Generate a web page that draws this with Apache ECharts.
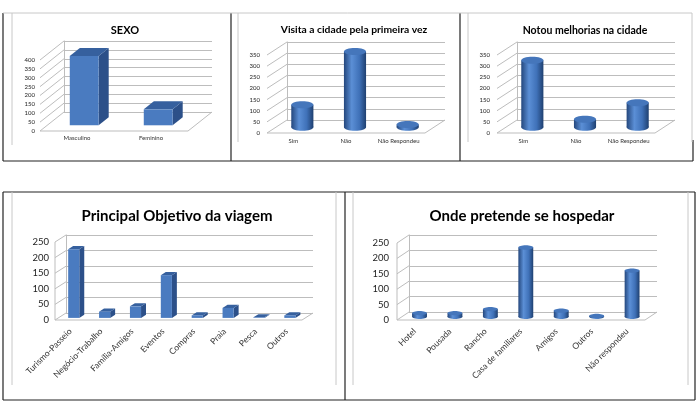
<!DOCTYPE html>
<html>
<head>
<meta charset="utf-8">
<script src="https://cdn.jsdelivr.net/npm/echarts@6/dist/echarts.min.js"></script>
<style>
  html, body { margin: 0; padding: 0; background: #fff; }
  #main { width: 700px; height: 416px; }
</style>
</head>
<body>
<div id="main"></div>
<script>
var sexoCats = ['Masculino', 'Feminino'];
var sexoVals = [390, 90];

var visitaCats = ['Sim', 'Não', 'Não Respondeu'];
var visitaVals = [100, 340, 12];

var notouCats = ['Sim', 'Não', 'Não Respondeu'];
var notouVals = [300, 35, 110];

var objetivoCats = ['Turismo-Passeio', 'Negócio-Trabalho', 'Família-Amigos', 'Eventos', 'Compras', 'Praia', 'Pesca', 'Outros'];
var objetivoVals = [220, 20, 37, 137, 8, 32, 2, 8];

var hospedarCats = ['Hotel', 'Pousada', 'Rancho', 'Casa de familiares', 'Amigos', 'Outros', 'Não respondeu'];
var hospedarVals = [12, 12, 25, 225, 20, 3, 150];

var ticks400 = [0, 50, 100, 150, 200, 250, 300, 350, 400];
var ticks350 = [0, 50, 100, 150, 200, 250, 300, 350];
var ticks250 = [0, 50, 100, 150, 200, 250];

(function () {
    var myChart = echarts.init(document.getElementById('main'));
    var FONT = 'Lato';
    var GRID = '#bdbdbd';

    var panels = [
        { title: 'SEXO', tx: 120, ty: 20, ts: 11, cats: sexoCats, vals: sexoVals, ticks: ticks400,
          left: 40, top: 60, width: 148, height: 71, dx: 24, dy: 19,
          shape: 'box', bar: 0.39, f1: 0.3, f2: 0.72, fs: 6, rot: 0, margin: 4, ymargin: 5, frontLine: false },
        { title: 'Visita a cidade pela primeira vez', tx: 349, ty: 20, ts: 10.3, cats: visitaCats, vals: visitaVals, ticks: ticks350,
          left: 267, top: 55, width: 158, height: 78, dx: 20, dy: 13,
          shape: 'cyl', bar: 0.42, fc: 0.45, ry: 3.5, fs: 6, rot: 0, margin: 5, ymargin: 7, frontLine: false },
        { title: 'Notou melhorias na cidade', tx: 580, ty: 20, ts: 10.5, cats: notouCats, vals: notouVals, ticks: ticks350,
          left: 497, top: 55, width: 158, height: 78, dx: 20, dy: 13,
          shape: 'cyl', bar: 0.42, fc: 0.45, ry: 3.5, fs: 6, rot: 0, margin: 5, ymargin: 7, frontLine: false },
        { title: 'Principal Objetivo da viagem', tx: 172, ty: 204, ts: 15, cats: objetivoCats, vals: objetivoVals, ticks: ticks250,
          left: 55, top: 242, width: 247, height: 78, dx: 11, dy: 7,
          shape: 'box', bar: 0.36, f1: 0.3, f2: 0.75, fs: 8.5, rot: 45, margin: 10, ymargin: 6, frontLine: true },
        { title: 'Onde pretende se hospedar', tx: 517, ty: 204, ts: 15, cats: hospedarCats, vals: hospedarVals, ticks: ticks250,
          left: 397, top: 243, width: 248, height: 77, dx: 12, dy: 8,
          shape: 'cyl', bar: 0.42, fc: 0.4, ry: 2.2, fs: 8.5, rot: 45, margin: 10, ymargin: 8, frontLine: true }
    ];

    function wallItem(p) {
        return function (params, api) {
            var cs = params.coordSys;
            var y = api.coord([0, api.value(1)])[1];
            var kids = [{
                type: 'line',
                shape: { x1: cs.x, y1: y, x2: cs.x + p.dx, y2: y - p.dy },
                style: { stroke: GRID, lineWidth: 1 }
            }];
            if (api.value(1) === 0) {
                kids.push({ type: 'polyline',
                    shape: { points: [[cs.x, y], [cs.x + cs.width, y], [cs.x + cs.width + p.dx, y - p.dy]] },
                    style: { stroke: GRID, lineWidth: 1, fill: null } });
                if (p.frontLine) {
                    kids.push({ type: 'line',
                        shape: { x1: cs.x, y1: cs.y, x2: cs.x, y2: cs.y + cs.height },
                        style: { stroke: GRID, lineWidth: 1 } });
                }
            }
            return { type: 'group', children: kids };
        };
    }

    function boxItem(p) {
        return function (params, api) {
            var cat = api.value(0), v = api.value(1);
            var base = api.coord([cat, 0]);
            var top = api.coord([cat, v]);
            var w = api.size([1, 0])[0] * p.bar;
            var ox = p.f1 * p.dx, oy = p.f1 * p.dy;
            var ddx = (p.f2 - p.f1) * p.dx, ddy = (p.f2 - p.f1) * p.dy;
            var x0 = base[0] - w / 2 + ox, x1 = x0 + w;
            var yb = base[1] - oy, yt = top[1] - oy;
            return { type: 'group', children: [
                { type: 'polygon', shape: { points: [[x1, yt], [x1 + ddx, yt - ddy], [x1 + ddx, yb - ddy], [x1, yb]] },
                  style: { fill: '#2c5089' } },
                { type: 'polygon', shape: { points: [[x0, yt], [x1, yt], [x1 + ddx, yt - ddy], [x0 + ddx, yt - ddy]] },
                  style: { fill: '#36609e' } },
                { type: 'rect', shape: { x: x0, y: yt, width: w, height: yb - yt },
                  style: { fill: '#4a7bc0' } }
            ] };
        };
    }

    function cylItem(p) {
        return function (params, api) {
            var cat = api.value(0), v = api.value(1);
            var base = api.coord([cat, 0]);
            var top = api.coord([cat, v]);
            var rx = api.size([1, 0])[0] * p.bar / 2;
            var cx = base[0] + p.fc * p.dx;
            var yb = base[1] - p.fc * p.dy, yt = top[1] - p.fc * p.dy;
            var grad = new echarts.graphic.LinearGradient(0, 0, 1, 0, [
                { offset: 0, color: '#24477d' },
                { offset: 0.35, color: '#5b8fd6' },
                { offset: 0.7, color: '#3f71b8' },
                { offset: 1, color: '#1f4070' }
            ]);
            return { type: 'group', children: [
                { type: 'ellipse', shape: { cx: cx, cy: yb, rx: rx, ry: p.ry }, style: { fill: grad } },
                { type: 'rect', shape: { x: cx - rx, y: yt, width: rx * 2, height: yb - yt }, style: { fill: grad } },
                { type: 'ellipse', shape: { cx: cx, cy: yt, rx: rx, ry: p.ry }, style: { fill: '#4576bb' } }
            ] };
        };
    }

    var option = {
        backgroundColor: '#fff',
        animation: false,
        title: [],
        grid: [],
        xAxis: [],
        yAxis: [],
        series: [],
        graphic: []
    };

    panels.forEach(function (p, i) {
        option.title.push({
            text: p.title, left: p.tx, top: p.ty, textAlign: 'center',
            textStyle: { fontFamily: FONT, fontSize: p.ts, fontWeight: 'bold', color: '#000' }
        });
        var max = p.ticks[p.ticks.length - 1];
        // parede do fundo
        option.grid.push({ left: p.left + p.dx, top: p.top - p.dy, width: p.width, height: p.height });
        // plano da frente
        option.grid.push({ left: p.left, top: p.top, width: p.width, height: p.height });
        option.xAxis.push({ type: 'category', gridIndex: 2 * i, data: p.cats, show: false });
        option.xAxis.push({
            type: 'category', gridIndex: 2 * i + 1, data: p.cats,
            axisLine: { show: false }, axisTick: { show: false },
            axisLabel: { interval: 0, rotate: p.rot, margin: p.margin, fontFamily: FONT, fontSize: p.fs, color: '#333' }
        });
        option.yAxis.push({
            type: 'value', gridIndex: 2 * i, min: 0, max: max, interval: 50,
            axisLabel: { show: false }, axisTick: { show: false },
            axisLine: { show: true, lineStyle: { color: GRID } },
            splitLine: { show: true, lineStyle: { color: GRID } }
        });
        option.yAxis.push({
            type: 'value', gridIndex: 2 * i + 1, min: 0, max: max, interval: 50,
            axisLine: { show: false }, axisTick: { show: false }, splitLine: { show: false },
            axisLabel: { margin: p.ymargin, fontFamily: FONT, fontSize: p.fs + (p.rot ? 1 : 0), color: '#222' }
        });
        option.series.push({
            type: 'custom', xAxisIndex: 2 * i + 1, yAxisIndex: 2 * i + 1, z: 1, silent: true,
            renderItem: wallItem(p),
            data: p.ticks.map(function (t) { return [0, t]; })
        });
        option.series.push({
            type: 'custom', xAxisIndex: 2 * i + 1, yAxisIndex: 2 * i + 1, z: 3,
            renderItem: p.shape === 'box' ? boxItem(p) : cylItem(p),
            data: p.vals.map(function (v, k) { return [k, v]; })
        });
    });

    // molduras da tabela
    var black = { stroke: '#222', lineWidth: 1.2 };
    var gray = { stroke: '#c8c8c8', lineWidth: 1 };
    [
        [3, 13, 3, 161, black], [231, 13, 231, 161, black], [460, 13, 460, 161, black],
        [3, 161, 693, 161, black], [693, 140, 693, 161, black],
        [3, 13, 692, 13, gray], [12, 13, 12, 145, gray], [238, 13, 238, 142, gray],
        [468, 13, 468, 142, gray], [692, 13, 692, 142, gray],
        [3, 192, 695, 192, black], [3, 192, 3, 400, black], [345, 192, 345, 400, black],
        [3, 400, 695, 400, black], [695, 192, 695, 400, black],
        [12, 192, 12, 385, gray], [336, 192, 336, 385, gray], [353, 192, 353, 385, gray],
        [688, 192, 688, 385, gray]
    ].forEach(function (l) {
        option.graphic.push({ type: 'line', silent: true, z: 0,
            shape: { x1: l[0], y1: l[1], x2: l[2], y2: l[3] }, style: l[4] });
    });

    myChart.setOption(option);
    window.addEventListener('resize', function () {
        myChart.resize();
    });
})();
</script>
</body>
</html>
